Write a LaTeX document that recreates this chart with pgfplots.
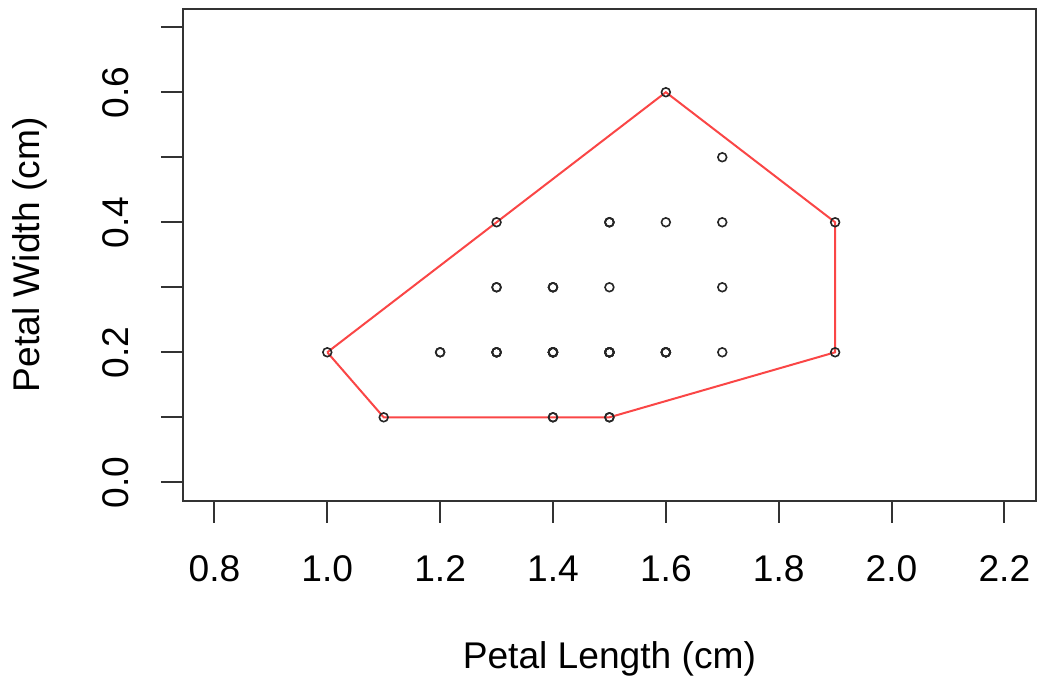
\documentclass[border=0pt]{standalone}
\usepackage{fontspec}
\setmainfont{Liberation Sans}
\usepackage{pgfplots}
\pgfplotsset{compat=1.18}
\definecolor{hullred}{RGB}{250,70,70}
\pgfplotstableread{
x y
1.4 0.2
1.4 0.2
1.3 0.2
1.5 0.2
1.4 0.2
1.7 0.4
1.4 0.3
1.5 0.2
1.4 0.2
1.5 0.1
1.5 0.2
1.6 0.2
1.4 0.1
1.1 0.1
1.2 0.2
1.5 0.4
1.3 0.4
1.4 0.3
1.7 0.3
1.5 0.3
1.7 0.2
1.5 0.4
1.0 0.2
1.7 0.5
1.9 0.2
1.6 0.2
1.6 0.4
1.5 0.2
1.4 0.2
1.6 0.2
1.6 0.2
1.5 0.4
1.5 0.1
1.4 0.2
1.5 0.2
1.2 0.2
1.3 0.2
1.4 0.1
1.3 0.2
1.5 0.2
1.3 0.3
1.3 0.3
1.3 0.2
1.6 0.6
1.9 0.4
1.4 0.3
1.6 0.2
1.4 0.2
1.5 0.2
1.4 0.2
}\iris
\pgfplotstableread{
x y
1.0 0.2
1.3 0.4
1.6 0.6
1.9 0.4
1.9 0.2
1.5 0.1
1.1 0.1
1.0 0.2
}\hull
\begin{document}
\fontsize{18.6}{22}\selectfont
\begin{tikzpicture}
\useasboundingbox (-91.5pt,-90.5pt) rectangle (428pt,250.5pt);
\begin{axis}[
  at={(0,0)}, anchor=south west,
  scale only axis, width=427pt, height=246pt,
  xmin=0.744, xmax=2.256, ymin=-0.028, ymax=0.728,
  axis line style={line width=1pt, black!80},
  tick align=outside, major tick length=11pt,
  tick style={line width=1pt, black!80},
  xtick pos=lower, ytick pos=left,
  xtick={0.8,1.0,1.2,1.4,1.6,1.8,2.0,2.2},
  xticklabels={0.8,1.0,1.2,1.4,1.6,1.8,2.0,2.2},
  ytick={0,0.1,0.2,0.3,0.4,0.5,0.6,0.7},
  yticklabels={0.0,,0.2,,0.4,,0.6,},
  xticklabel style={anchor=center, yshift=-23pt},
  yticklabel style={rotate=90, anchor=center, yshift=22.5pt},
  xlabel={Petal Length (cm)}, ylabel={Petal Width (cm)},
  every axis x label/.style={at={(axis description cs:0.5,-0.3232)}, anchor=center},
  every axis y label/.style={at={(axis description cs:-0.1792,0.5)}, rotate=90, anchor=center},
  clip=false,
]
\addplot[hullred, line width=1pt] table {\hull};
\addplot[only marks, mark=o, mark size=2.2pt, mark options={line width=0.8pt, black!85}] table {\iris};
\end{axis}
\end{tikzpicture}
\end{document}
